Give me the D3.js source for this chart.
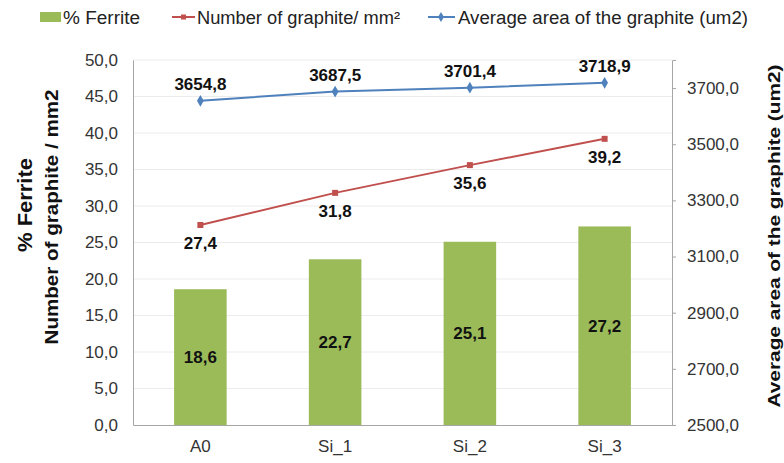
<!DOCTYPE html>
<html>
<head>
<meta charset="utf-8">
<script src="https://cdn.jsdelivr.net/npm/d3@7"></script>
<style>
  html, body { margin: 0; padding: 0; background: #fff; }
  svg { display: block; font-family: "Liberation Sans", Arial, sans-serif; }
</style>
</head>
<body>
<svg id="chart" width="784" height="463"></svg>
<script>
// Samples on the x axis
const categories = ["A0", "Si_1", "Si_2", "Si_3"];
// % Ferrite (bars, left axis)
const ferrite = [18.6, 22.7, 25.1, 27.2];
// Number of graphite per mm² (red line, left axis)
const graphiteCount = [27.4, 31.8, 35.6, 39.2];
// Average graphite area in um² (blue line, right axis)
const graphiteArea = [3654.8, 3687.5, 3701.4, 3718.9];
// Axis ticks
const leftTicks = [0, 5, 10, 15, 20, 25, 30, 35, 40, 45, 50];
const rightTicks = [2500, 2700, 2900, 3100, 3300, 3500, 3700];

const fmt = v => v.toFixed(1).replace(".", ",");

const svg = d3.select("#chart");
const plot = { left: 133, right: 672, top: 60, bottom: 425 };

const x = d3.scaleBand().domain(categories).range([plot.left, plot.right]).paddingInner(0).paddingOuter(0);
const yL = d3.scaleLinear().domain([0, 50]).range([plot.bottom, plot.top]);
const yR = d3.scaleLinear().domain([2500, 3800]).range([plot.bottom, plot.top]);

const colBar = "#9BBB59", colRed = "#C0504D", colBlue = "#4F81BD";

// Horizontal gridlines
svg.append("g").selectAll("line").data(leftTicks.slice(1)).join("line")
  .attr("x1", plot.left).attr("x2", plot.right)
  .attr("y1", d => yL(d)).attr("y2", d => yL(d))
  .attr("stroke", "#ececec").attr("stroke-width", 1);

// Left axis
const gL = svg.append("g").attr("transform", `translate(${plot.left},0)`)
  .call(d3.axisLeft(yL).tickValues(leftTicks).tickFormat(fmt).tickSize(0).tickPadding(15));
gL.select(".domain").attr("stroke", "#a6a6a6");
gL.selectAll("text").attr("font-size", 17).attr("fill", "#333")
  .attr("font-family", "'Liberation Sans', Arial, sans-serif");

// Right axis
const gR = svg.append("g").attr("transform", `translate(${plot.right},0)`)
  .call(d3.axisRight(yR).tickValues(rightTicks).tickFormat(fmt).tickSize(4).tickPadding(11));
gR.select(".domain").attr("stroke", "#a6a6a6");
gR.selectAll(".tick line").attr("stroke", "#a6a6a6");
gR.selectAll("text").attr("font-size", 17).attr("fill", "#333")
  .attr("font-family", "'Liberation Sans', Arial, sans-serif");

// Bars
const barW = x.bandwidth() * 0.39;
svg.append("g").selectAll("rect").data(ferrite).join("rect")
  .attr("x", (d, i) => x(categories[i]) + x.bandwidth() / 2 - barW / 2)
  .attr("width", barW)
  .attr("y", d => yL(d))
  .attr("height", d => yL(0) - yL(d))
  .attr("fill", colBar);

// Bottom axis
const gX = svg.append("g").attr("transform", `translate(0,${plot.bottom})`)
  .call(d3.axisBottom(x).tickSize(0).tickPadding(15));
gX.select(".domain").attr("stroke", "#a6a6a6");
gX.selectAll("text").attr("font-size", 17).attr("fill", "#333")
  .attr("font-family", "'Liberation Sans', Arial, sans-serif");

const cx = i => x(categories[i]) + x.bandwidth() / 2;

// Red line
svg.append("path").datum(graphiteCount)
  .attr("d", d3.line().x((d, i) => cx(i)).y(d => yL(d)))
  .attr("fill", "none").attr("stroke", colRed).attr("stroke-width", 2);
svg.append("g").selectAll("rect").data(graphiteCount).join("rect")
  .attr("x", (d, i) => cx(i) - 3).attr("y", d => yL(d) - 3)
  .attr("width", 6).attr("height", 6).attr("fill", colRed);

// Blue line
svg.append("path").datum(graphiteArea)
  .attr("d", d3.line().x((d, i) => cx(i)).y(d => yR(d)))
  .attr("fill", "none").attr("stroke", colBlue).attr("stroke-width", 2);
svg.append("g").selectAll("path").data(graphiteArea).join("path")
  .attr("d", d3.symbol().type(d3.symbolDiamond).size(40))
  .attr("transform", (d, i) => `translate(${cx(i)},${yR(d)})`)
  .attr("fill", colBlue);

// Data labels
const lbl = (sel) => sel.attr("text-anchor", "middle").attr("font-size", 17)
  .attr("font-weight", "bold").attr("fill", "#111");
svg.append("g").selectAll("text").data(ferrite).join("text")
  .call(lbl).attr("x", (d, i) => cx(i)).attr("y", d => (yL(d) + yL(0)) / 2 + 6).text(fmt);
svg.append("g").selectAll("text").data(graphiteCount).join("text")
  .call(lbl).attr("x", (d, i) => cx(i)).attr("y", d => yL(d) + 24).text(fmt);
svg.append("g").selectAll("text").data(graphiteArea).join("text")
  .call(lbl).attr("x", (d, i) => cx(i)).attr("y", d => yR(d) - 11).text(fmt);

// Axis titles
svg.append("text").attr("transform", "translate(32,205) rotate(-90)")
  .attr("text-anchor", "middle").attr("font-size", 20).attr("font-weight", "bold").attr("fill", "#111")
  .attr("textLength", 94).attr("lengthAdjust", "spacingAndGlyphs")
  .text("% Ferrite");
svg.append("text").attr("transform", "translate(58,217) rotate(-90)")
  .attr("text-anchor", "middle").attr("font-size", 19).attr("font-weight", "bold").attr("fill", "#111")
  .attr("textLength", 255).attr("lengthAdjust", "spacingAndGlyphs")
  .text("Number of graphite / mm2");
svg.append("text").attr("transform", "translate(780,236) rotate(-90)")
  .attr("text-anchor", "middle").attr("font-size", 17).attr("font-weight", "bold").attr("fill", "#111")
  .attr("textLength", 343).attr("lengthAdjust", "spacingAndGlyphs")
  .text("Average area of the graphite (um2)");

// Legend
const leg = svg.append("g").attr("font-size", 18).attr("fill", "#222")
  .attr("font-family", "'Liberation Sans Narrow', 'Liberation Sans', Arial, sans-serif");
leg.append("rect").attr("x", 40).attr("y", 12).attr("width", 21).attr("height", 10).attr("fill", colBar);
leg.append("text").attr("x", 63).attr("y", 24).attr("textLength", 77).attr("lengthAdjust", "spacingAndGlyphs").text("% Ferrite");
leg.append("line").attr("x1", 172).attr("x2", 195).attr("y1", 17).attr("y2", 17).attr("stroke", colRed).attr("stroke-width", 2);
leg.append("rect").attr("x", 181).attr("y", 14.5).attr("width", 5).attr("height", 5).attr("fill", colRed);
leg.append("text").attr("x", 197).attr("y", 24).attr("textLength", 203).attr("lengthAdjust", "spacingAndGlyphs").text("Number of graphite/ mm²");
leg.append("line").attr("x1", 428).attr("x2", 455).attr("y1", 17).attr("y2", 17).attr("stroke", colBlue).attr("stroke-width", 2);
leg.append("path").attr("d", d3.symbol().type(d3.symbolDiamond).size(30)).attr("transform", "translate(441,17)").attr("fill", colBlue);
leg.append("text").attr("x", 458).attr("y", 24).attr("textLength", 290).attr("lengthAdjust", "spacingAndGlyphs").text("Average area of the graphite (um2)");
</script>
</body>
</html>
